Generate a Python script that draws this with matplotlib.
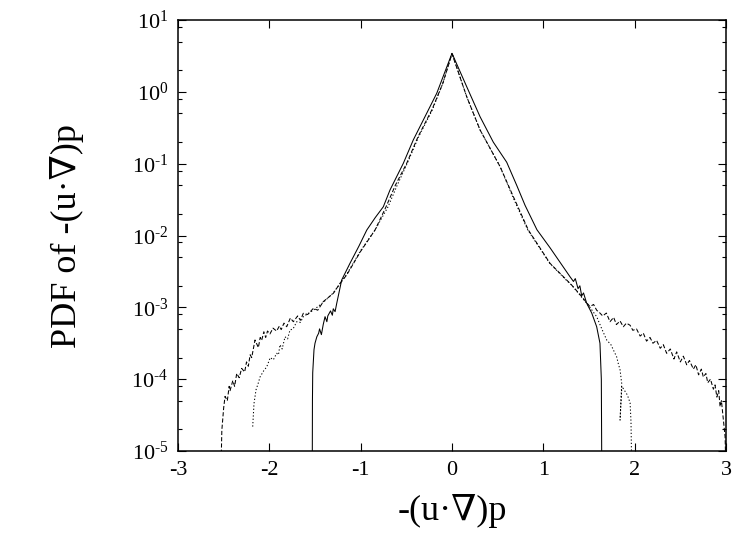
import numpy as np
import matplotlib
matplotlib.use("Agg")
import matplotlib.pyplot as plt
from matplotlib.ticker import FixedLocator, FixedFormatter, NullLocator

plt.rcParams['font.family'] = ['Liberation Serif', 'DejaVu Serif']
plt.rcParams['mathtext.fontset'] = 'custom'
plt.rcParams['mathtext.rm'] = 'Liberation Serif'
plt.rcParams['axes.unicode_minus'] = False

# curves: x and log10(PDF)
solid_x = [-1.53, -1.528, -1.525, -1.511, -1.50, -1.48, -1.46, -1.45, -1.43, -1.41,
           -1.39, -1.37, -1.36, -1.33, -1.31, -1.30, -1.28, -1.262, -1.208, -1.117,
           -1.02, -0.933, -0.84, -0.752, -0.679, -0.533, -0.424, -0.314, -0.167, 0.0,
           0.161, 0.307, 0.452, 0.599, 0.708, 0.80, 0.93, 1.073, 1.292, 1.33,
           1.35, 1.38, 1.40, 1.42, 1.44, 1.475, 1.53, 1.584, 1.62, 1.635, 1.64]
solid_ly = [-5.3, -4.3, -3.91, -3.59, -3.50, -3.41, -3.36, -3.30, -3.38, -3.24,
            -3.13, -3.20, -3.12, -3.05, -3.11, -3.02, -3.06, -2.944, -2.62, -2.387,
            -2.15, -1.924, -1.75, -1.6, -1.367, -0.995, -0.67, -0.392, -0.02, 0.536,
            0.072, -0.346, -0.70, -0.98, -1.30, -1.58, -1.92, -2.17, -2.574, -2.64,
            -2.60, -2.74, -2.70, -2.84, -2.80, -2.944, -3.08, -3.27, -3.50, -4.0, -5.3]

dashed_x = [-2.53, -2.52, -2.50, -2.485, -2.46, -2.44, -2.43, -2.40, -2.38, -2.357,
            -2.33, -2.303, -2.27, -2.25, -2.23, -2.21, -2.193, -2.157, -2.12, -2.10,
            -2.084, -2.06, -2.04, -2.02, -1.993, -1.96, -1.92, -1.89, -1.87, -1.84,
            -1.81, -1.77, -1.737, -1.69, -1.66, -1.628, -1.58, -1.518, -1.47, -1.409,
            -1.3, -1.226, -1.153, -1.0, -0.843, -0.722, -0.62, -0.496, -0.372, -0.22,
            -0.10, 0.0, 0.161, 0.307, 0.526, 0.672, 0.836, 1.073, 1.256, 1.31,
            1.40, 1.51, 1.55, 1.584, 1.62, 1.65, 1.69, 1.73, 1.77, 1.80,
            1.84, 1.876, 1.91, 1.95, 1.98, 2.02, 2.06, 2.095, 2.13, 2.168,
            2.20, 2.24, 2.28, 2.314, 2.35, 2.39, 2.43, 2.46, 2.50, 2.533,
            2.57, 2.60, 2.643, 2.67, 2.70, 2.73, 2.752, 2.78, 2.80, 2.83,
            2.862, 2.88, 2.90, 2.92, 2.935, 2.95, 2.97, 2.99, 3.0]
dashed_ly = [-5.3, -4.71, -4.40, -4.24, -4.30, -4.10, -4.16, -4.02, -4.10, -3.92,
             -3.98, -3.85, -3.90, -3.76, -3.82, -3.66, -3.70, -3.455, -3.56, -3.42,
             -3.46, -3.34, -3.42, -3.33, -3.37, -3.29, -3.33, -3.26, -3.31, -3.22,
             -3.27, -3.15, -3.20, -3.12, -3.18, -3.083, -3.10, -3.014, -3.04, -2.92,
             -2.806, -2.666, -2.55, -2.22, -1.924, -1.6, -1.3, -0.995, -0.625, -0.25,
             0.12, 0.53, -0.068, -0.53, -1.04, -1.46, -1.924, -2.387, -2.62, -2.69,
             -2.82, -2.99, -2.96, -3.04, -3.08, -3.12, -3.08, -3.20, -3.14, -3.24,
             -3.19, -3.27, -3.22, -3.25, -3.32, -3.30, -3.40, -3.36, -3.47, -3.42,
             -3.50, -3.46, -3.57, -3.52, -3.64, -3.58, -3.72, -3.62, -3.76, -3.68,
             -3.80, -3.74, -3.86, -3.80, -3.94, -3.86, -3.97, -3.92, -4.05, -4.00,
             -4.14, -4.08, -4.25, -4.16, -4.38, -4.30, -4.55, -4.80, -5.3]

dotted_x = [-2.182, -2.168, -2.146, -2.12, -2.102, -2.06, -2.029, -1.99, -1.956, -1.92,
            -1.90, -1.883, -1.86, -1.828, -1.80, -1.774, -1.74, -1.7, -1.66, -1.628,
            -1.518, -1.409, -1.3, -1.153, -1.0, -0.843, -0.70, -0.60, -0.49, -0.365,
            -0.215, -0.10, 0.0, 0.161, 0.307, 0.526, 0.665, 0.83, 1.07, 1.25,
            1.31, 1.51, 1.584, 1.64, 1.694, 1.74, 1.803, 1.82, 1.84, 1.858,
            1.84, 1.86, 1.92, 1.95, 1.96, 1.968]
dotted_ly = [-4.66, -4.34, -4.15, -4.05, -3.97, -3.88, -3.83, -3.70, -3.73, -3.64,
             -3.66, -3.52, -3.58, -3.41, -3.44, -3.316, -3.30, -3.2, -3.21, -3.13,
             -3.04, -2.93, -2.80, -2.54, -2.21, -1.924, -1.6, -1.3, -0.995, -0.625,
             -0.25, 0.12, 0.54, -0.068, -0.53, -1.04, -1.46, -1.924, -2.387, -2.62,
             -2.69, -3.0, -3.13, -3.30, -3.455, -3.52, -3.69, -3.78, -3.87, -4.06,
             -4.57, -4.1, -4.22, -4.33, -4.6, -5.3]

x_ticks = [-3, -2, -1, 0, 1, 2, 3]
y_exps = [-5, -4, -3, -2, -1, 0, 1]

fig = plt.figure(figsize=(7.36, 5.41), dpi=100)
ax = fig.add_axes([178 / 736, 1 - 451 / 541, 548 / 736, 431 / 541])

ax.plot(solid_x, 10 ** np.array(solid_ly), color='black', lw=0.75, ls='-')
ax.plot(dashed_x, 10 ** np.array(dashed_ly), color='black', lw=0.75, dashes=(4, 2))
ax.plot(dotted_x, 10 ** np.array(dotted_ly), color='black', lw=0.75, dashes=(1.2, 2))

ax.set_yscale('log')
ax.set_xlim(-3, 3)
ax.set_ylim(1e-5, 1e1)

ax.xaxis.set_major_locator(FixedLocator(x_ticks))
ax.xaxis.set_major_formatter(FixedFormatter([str(t) for t in x_ticks]))
ax.xaxis.set_minor_locator(NullLocator())

ax.yaxis.set_major_locator(FixedLocator([10.0 ** e for e in y_exps]))
ax.yaxis.set_major_formatter(FixedFormatter(
    [r'$\mathregular{10^{\text{%d}}}$' % e for e in y_exps]))
minors = [m * 10.0 ** e for e in y_exps[:-1] for m in (2, 5, 8)]
ax.yaxis.set_minor_locator(FixedLocator(minors))
ax.yaxis.set_minor_formatter(FixedFormatter([''] * len(minors)))

ax.tick_params(which='both', direction='in', top=True, right=True,
               labelsize=16, pad=7, width=0.8)
ax.tick_params(which='major', length=6)
ax.tick_params(which='minor', length=3)
for s in ax.spines.values():
    s.set_linewidth(1.1)

ax.set_xlabel('-(u·∇)p', fontsize=26, labelpad=10)
ax.set_ylabel('PDF of -(u·∇)p', fontsize=26, labelpad=34)

fig.savefig('out.png', dpi=100)
